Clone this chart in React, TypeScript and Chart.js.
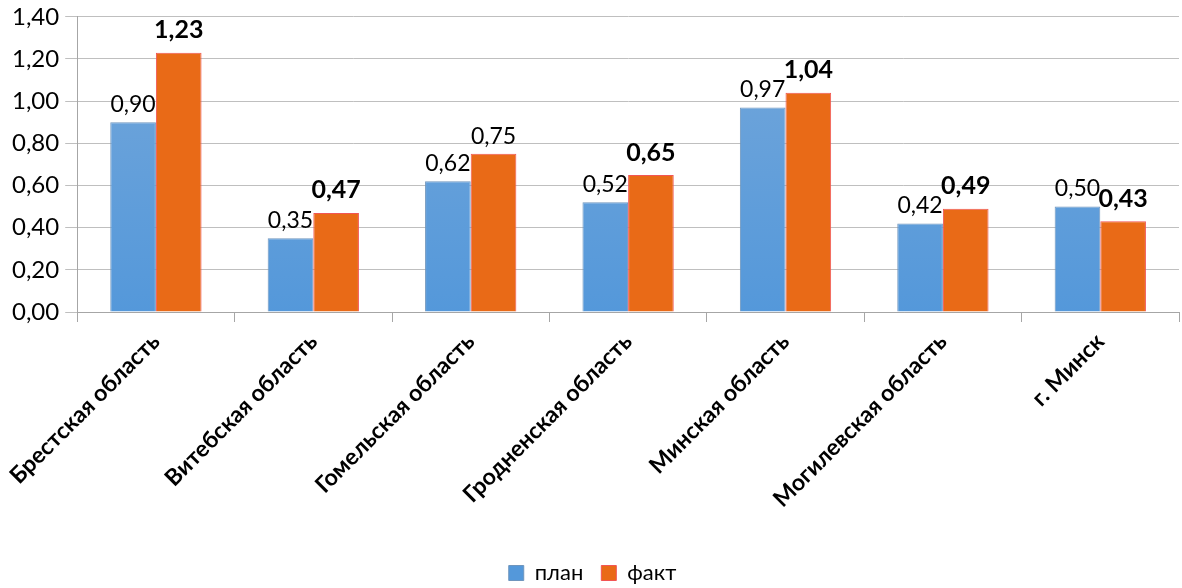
import React, { useEffect, useRef } from "react";
import { Chart, registerables } from "chart.js";

Chart.register(...registerables);

const categories = [
  "Брестская область",
  "Витебская область",
  "Гомельская область",
  "Гродненская область",
  "Минская область",
  "Могилевская область",
  "г. Минск",
];
const planValues = [0.9, 0.35, 0.62, 0.52, 0.97, 0.42, 0.5];
const factValues = [1.23, 0.47, 0.75, 0.65, 1.04, 0.49, 0.43];
const factBold = [true, true, false, true, true, true, true];
const seriesNames = ["план", "факт"];

const FONT = "Lato, 'Open Sans', sans-serif";
const fmt = (v: number) => v.toFixed(2).replace(".", ",");

const labelPlugin = {
  id: "valueLabels",
  afterDatasetsDraw(chart: any) {
    const ctx = chart.ctx;
    ctx.save();
    ctx.textAlign = "center";
    ctx.textBaseline = "bottom";
    ctx.fillStyle = "#000";
    chart.data.datasets.forEach((ds: any, di: number) => {
      const meta = chart.getDatasetMeta(di);
      meta.data.forEach((el: any, i: number) => {
        const bold = di === 1 && factBold[i];
        ctx.font = (bold ? "bold 25px " : "23px ") + FONT;
        ctx.fillText(fmt(ds.data[i]), el.x, el.y - (bold ? 10 : 6));
      });
    });
    ctx.restore();
  },
};

function gradient(chart: any, top: string, bottom: string) {
  const area = chart.chartArea;
  if (!area) return bottom;
  const g = chart.ctx.createLinearGradient(0, area.top, 0, area.bottom);
  g.addColorStop(0, top);
  g.addColorStop(1, bottom);
  return g;
}

export default function App() {
  const ref = useRef<HTMLCanvasElement>(null);
  useEffect(() => {
    if (!ref.current) return;
    const chart = new Chart(ref.current, {
      type: "bar",
      data: {
        labels: categories,
        datasets: [
          {
            label: seriesNames[0],
            data: planValues,
            backgroundColor: (c: any) => gradient(c.chart, "#74a7da", "#5498da"),
            borderColor: "#6f95bd",
            borderWidth: 1,
            categoryPercentage: 0.58,
            barPercentage: 1,
          },
          {
            label: seriesNames[1],
            data: factValues,
            backgroundColor: "#e96a17",
            borderColor: "#f25555",
            borderWidth: 1,
            categoryPercentage: 0.58,
            barPercentage: 1,
          },
        ],
      },
      options: {
        animation: false,
        responsive: true,
        maintainAspectRatio: false,
        layout: { padding: { top: 0, right: 3, left: 6, bottom: -6 } },
        plugins: {
          legend: {
            position: "bottom",
            labels: {
              boxWidth: 15,
              boxHeight: 15,
              color: "#000",
              font: { family: FONT, size: 22 },
              padding: 18,
            },
          },
          tooltip: { enabled: false },
        },
        scales: {
          x: {
            afterFit: (scale: any) => {
              scale.height = 232;
            },
            grid: {
              offset: true,
              drawOnChartArea: false,
              drawTicks: true,
              tickLength: 10,
              color: "#a6a6a6",
            },
            border: { color: "#a6a6a6" },
            ticks: {
              minRotation: 45,
              maxRotation: 45,
              color: "#000",
              font: { family: FONT, size: 23, weight: "bold" },
              padding: 6,
            },
          },
          y: {
            min: 0,
            max: 1.4,
            grid: { color: "#bfbfbf", tickLength: 12 },
            border: { color: "#a6a6a6" },
            ticks: {
              stepSize: 0.2,
              color: "#000",
              font: { family: FONT, size: 24, lineHeight: 0.9 },
              padding: 6,
              callback: (v: any) => fmt(Number(v)),
            },
          },
        },
      },
      plugins: [labelPlugin],
    });
    return () => chart.destroy();
  }, []);
  return (
    <div style={{ position: "fixed", left: 0, top: 0, width: 1182, height: 588, background: "#fff" }}>
      <canvas ref={ref} />
    </div>
  );
}
